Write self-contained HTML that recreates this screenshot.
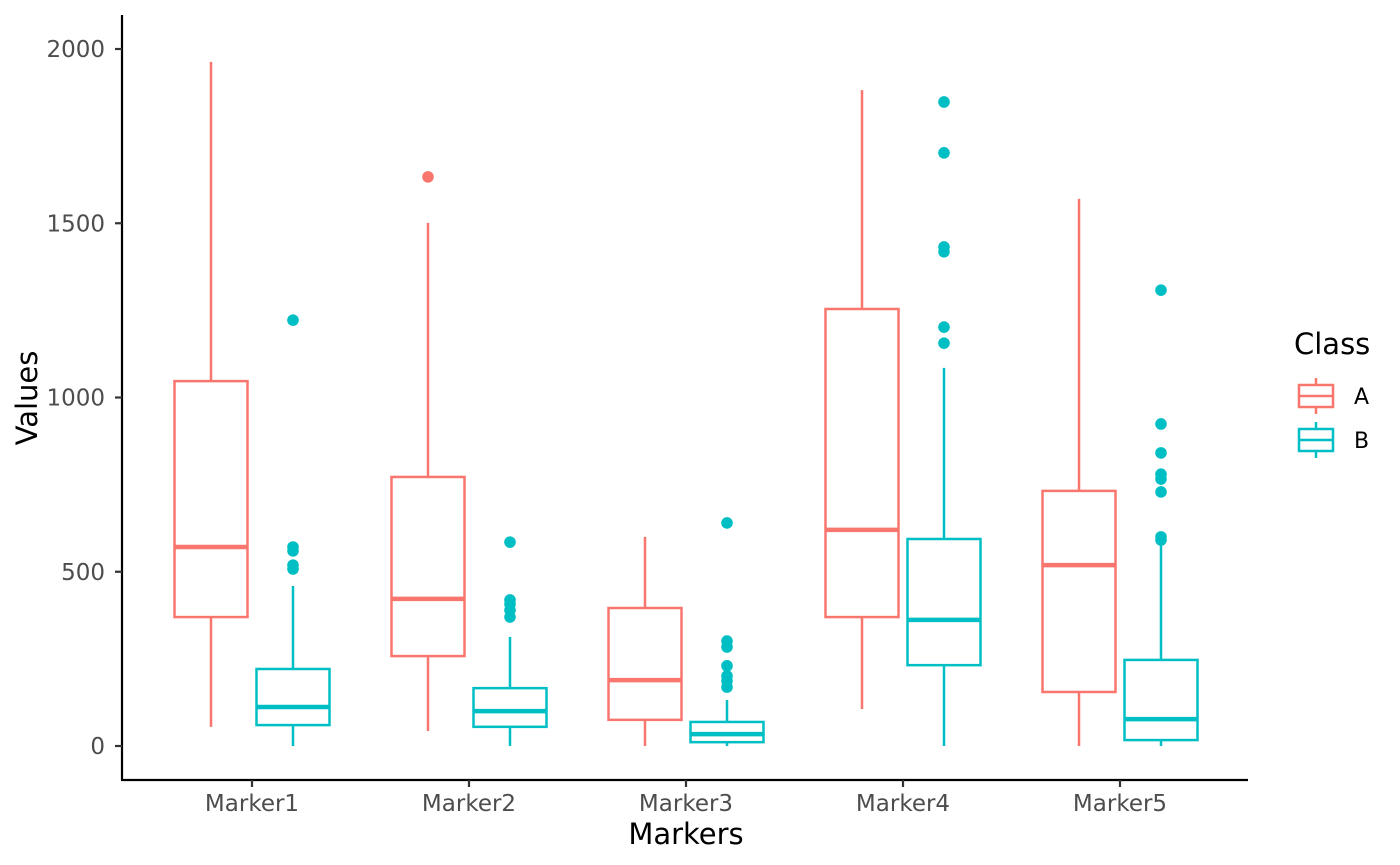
<!DOCTYPE html>
<html><head><meta charset="utf-8"><style>
body{margin:0;background:#fff;}
svg{display:block;font-family:"DejaVu Sans","Liberation Sans",sans-serif;}
</style></head><body>
<svg id="chart" width="1400" height="865">
<g id="plot"></g>
</svg>
<script>
const categories=["Marker1","Marker2","Marker3","Marker4","Marker5"];
const classes=["A","B"];
const colors={A:"#F8766D",B:"#00BFC4"};
// [low, q1, median, q3, high]
const statsA=[[55,370,571,1047,1963],[43,258,422,772,1501],[0,75,189,396,600],[106,370,620,1254,1882],[0,155,519,732,1570]];
const statsB=[[0,60,112,221,459],[0,55,100,166,313],[0,11,34,69,132],[0,232,362,594,1085],[0,17,77,247,588]];
const outliersA=[[],[1633],[],[],[]];
const outliersB=[[1222,571,560,519,508],[585,419,407,390,370],[640,301,284,230,201,187,169],[1848,1702,1432,1418,1202,1156],[1308,924,841,780,766,729,600,591]];
const yTicks=[0,500,1000,1500,2000];

const NS="http://www.w3.org/2000/svg";
const svg=document.getElementById('chart');
const plot=document.getElementById('plot');
function y(v){return 746-v*(697/2000);}
function xc(i){return 252+i*217;}
function mk(tag,attrs,parent,text){const e=document.createElementNS(NS,tag);for(const k in attrs)e.setAttribute(k,attrs[k]);if(text!==undefined)e.textContent=text;(parent||svg).appendChild(e);return e;}

let ax=mk('line',{x1:122,y1:15,x2:122,y2:780,stroke:'#000','stroke-width':2.2});


ax=mk('line',{x1:121,y1:780,x2:1248,y2:780,stroke:'#000','stroke-width':2.2});



yTicks.forEach(t=>{
  const tk=mk('line',{x1:115,y1:y(t),x2:122,y2:y(t),stroke:'#333','stroke-width':2.2});
  
  
  const lb=mk('text',{x:105,y:y(t)+8,'text-anchor':'end','font-size':23,fill:'#4d4d4d'},svg,String(t));
  
  
});
categories.forEach((c,i)=>{
  const tk=mk('line',{x1:xc(i),y1:780,x2:xc(i),y2:787,stroke:'#333','stroke-width':2.2});
  
  
  const lb=mk('text',{x:xc(i),y:811,'text-anchor':'middle','font-size':23,fill:'#4d4d4d'},svg,c);
  
  
});
let t=mk('text',{x:686,y:844,'text-anchor':'middle','font-size':29,fill:'#000'},svg,'Markers');


t=mk('text',{x:37,y:398,'text-anchor':'middle','font-size':29,fill:'#000',transform:'rotate(-90 37 398)'},svg,'Values');



function drawBox(s,outs,cx,col,name){
  const g=mk('g',{},plot);
  
  
  const w=73;
  mk('line',{x1:cx,y1:y(s[4]),x2:cx,y2:y(s[3]),stroke:col,'stroke-width':2.5},g);
  mk('line',{x1:cx,y1:y(s[1]),x2:cx,y2:y(s[0]),stroke:col,'stroke-width':2.5},g);
  mk('rect',{x:cx-w/2,y:y(s[3]),width:w,height:y(s[1])-y(s[3]),fill:'#fff',stroke:col,'stroke-width':2.5},g);
  mk('line',{x1:cx-w/2,y1:y(s[2]),x2:cx+w/2,y2:y(s[2]),stroke:col,'stroke-width':4.5},g);
  outs.forEach(o=>{
    const c=mk('circle',{cx:cx,cy:y(o),r:5.8,fill:col},g);
    
    
  });
}
categories.forEach((c,i)=>{
  drawBox(statsA[i],outliersA[i],xc(i)-41,colors.A,'box-'+c.toLowerCase()+'-a');
  drawBox(statsB[i],outliersB[i],xc(i)+41,colors.B,'box-'+c.toLowerCase()+'-b');
});

const lg=mk('g',{});


t=mk('text',{x:1294,y:354,'font-size':29,fill:'#000'},lg,'Class');


classes.forEach((k,i)=>{
  const cy=396+i*44;
  const e=mk('g',{},lg);
  
  
  const col=colors[k];
  mk('line',{x1:1316,y1:cy-18,x2:1316,y2:cy+18,stroke:col,'stroke-width':2.5},e);
  mk('rect',{x:1299,y:cy-11,width:34,height:22,fill:'#fff',stroke:col,'stroke-width':2.5},e);
  mk('line',{x1:1299,y1:cy,x2:1333,y2:cy,stroke:col,'stroke-width':2.5},e);
  mk('text',{x:1354,y:cy+8,'font-size':22,fill:'#000'},e,k);
});
</script>
</body></html>
